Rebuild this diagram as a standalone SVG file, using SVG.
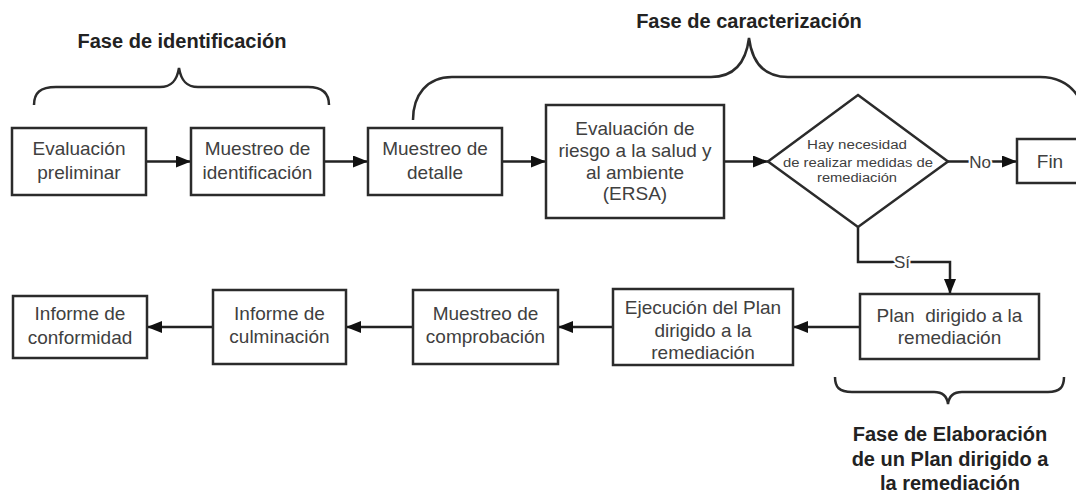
<svg xmlns="http://www.w3.org/2000/svg" width="1076" height="493" viewBox="0 0 1076 493">
<style>
  .box { fill: #ffffff; stroke: #2b2b2b; stroke-width: 2.5; }
  .t { font-family: "Liberation Sans", Arial, sans-serif; font-size: 19px; fill: #404040; text-anchor: middle; }
  .d { font-family: "Liberation Sans", Arial, sans-serif; font-size: 12px; fill: #404040; text-anchor: middle; }
  .lbl { font-family: "Liberation Sans", Arial, sans-serif; font-size: 20px; font-weight: bold; fill: #222; text-anchor: middle; }
  .edge { fill: none; stroke: #222; stroke-width: 2.5; }
  .brace { fill: none; stroke: #2b2b2b; stroke-width: 2.5; }
  .el { font-family: "Liberation Sans", Arial, sans-serif; font-size: 17px; fill: #404040; text-anchor: middle; stroke: #fff; stroke-width: 4; paint-order: stroke; }
</style>
<defs>
  <marker id="arr" markerUnits="userSpaceOnUse" markerWidth="15" markerHeight="12" refX="15" refY="6" orient="auto">
    <path d="M0,0 L15,6 L0,12 z" fill="#111"/>
  </marker>
</defs>
<rect width="1076" height="493" fill="#ffffff"/>

<g id="braces">
  <path class="brace" d="M34,105 C34,93 40,87 56,87 L160,87 C172,87 177,80 179,68 C181,80 186,87 198,87 L308,87 C322,87 329,93 329,105"/>
  <path class="brace" d="M413,120 C413,95 427,77 452,77 L711,77 C735,77 746,62 749,38 C752,62 763,77 788,77 L1040,77 C1060,77 1072,85 1080,100"/>
  <path class="brace" d="M835,377 C835,387 839,392 852,392 L934,392 C943,392 947,396 948,404 C949,396 953,392 962,392 L1048,392 C1060,392 1064,387 1064,377"/>
</g>

<g id="labels">
  <text class="lbl" x="182" y="48">Fase de identificación</text>
  <text class="lbl" x="749" y="28">Fase de caracterización</text>
  <text class="lbl" x="950" y="441">Fase de Elaboración</text>
  <text class="lbl" x="950" y="466">de un Plan dirigido a</text>
  <text class="lbl" x="950" y="490">la remediación</text>
</g>

<g id="connectors">
  <path class="edge" d="M146,161.5 H191" marker-end="url(#arr)"/>
  <path class="edge" d="M324,161.5 H368" marker-end="url(#arr)"/>
  <path class="edge" d="M502,161.5 H546" marker-end="url(#arr)"/>
  <path class="edge" d="M724,161.5 H768" marker-end="url(#arr)"/>
  <path class="edge" d="M948,161.5 H1017" marker-end="url(#arr)"/>
  <text class="el" x="980" y="167.5">No</text>
  <path class="edge" d="M858,227 V262 H950 V294" marker-end="url(#arr)"/>
  <text class="el" x="902" y="268">Sí</text>
  <path class="edge" d="M860,327 H793" marker-end="url(#arr)"/>
  <path class="edge" d="M613,327 H558" marker-end="url(#arr)"/>
  <path class="edge" d="M413,327 H346" marker-end="url(#arr)"/>
  <path class="edge" d="M213,327 H147" marker-end="url(#arr)"/>
</g>

<g id="n-eval-prelim">
  <rect class="box" x="12" y="128" width="134" height="67"/>
  <text class="t" x="79" y="154.5">Evaluación</text>
  <text class="t" x="79" y="178.5">preliminar</text>
</g>
<g id="n-muestreo-ident">
  <rect class="box" x="191" y="128" width="133" height="67"/>
  <text class="t" x="257.5" y="154.5">Muestreo de</text>
  <text class="t" x="257.5" y="178.5">identificación</text>
</g>
<g id="n-muestreo-detalle">
  <rect class="box" x="368" y="128" width="134" height="67"/>
  <text class="t" x="435" y="154.5">Muestreo de</text>
  <text class="t" x="435" y="178.5">detalle</text>
</g>
<g id="n-ersa">
  <rect class="box" x="546" y="105" width="178" height="113"/>
  <text class="t" x="635" y="134.5">Evaluación de</text>
  <text class="t" x="635" y="156.5">riesgo a la salud y</text>
  <text class="t" x="635" y="178.5">al ambiente</text>
  <text class="t" x="635" y="199.5">(ERSA)</text>
</g>
<g id="n-decision">
  <polygon class="box" points="858,95 948,161.5 858,227 768,161.5"/>
  <text class="d" x="857" y="149" textLength="100" lengthAdjust="spacingAndGlyphs">Hay necesidad</text>
  <text class="d" x="858" y="167" textLength="150" lengthAdjust="spacingAndGlyphs">de realizar medidas de</text>
  <text class="d" x="857" y="182" textLength="80" lengthAdjust="spacingAndGlyphs">remediación</text>
</g>
<g id="n-fin">
  <rect class="box" x="1017" y="139" width="70" height="44"/>
  <text class="t" x="1050" y="167.5">Fin</text>
</g>
<g id="n-plan">
  <rect class="box" x="860" y="294" width="179" height="65"/>
  <text class="t" x="949.5" y="321.5" xml:space="preserve">Plan  dirigido a la</text>
  <text class="t" x="949.5" y="343.5">remediación</text>
</g>
<g id="n-ejecucion">
  <rect class="box" x="613" y="289" width="180" height="76"/>
  <text class="t" x="703" y="313.5">Ejecución del Plan</text>
  <text class="t" x="703" y="336.5">dirigido a la</text>
  <text class="t" x="703" y="358.5">remediación</text>
</g>
<g id="n-comprobacion">
  <rect class="box" x="413" y="290" width="145" height="74"/>
  <text class="t" x="485.5" y="319.5">Muestreo de</text>
  <text class="t" x="485.5" y="342.5">comprobación</text>
</g>
<g id="n-culminacion">
  <rect class="box" x="213" y="290" width="133" height="74"/>
  <text class="t" x="279.5" y="319.5">Informe de</text>
  <text class="t" x="279.5" y="342.5">culminación</text>
</g>
<g id="n-conformidad">
  <rect class="box" x="13" y="296" width="134" height="62"/>
  <text class="t" x="80" y="319.5">Informe de</text>
  <text class="t" x="80" y="343.5">conformidad</text>
</g>
</svg>
